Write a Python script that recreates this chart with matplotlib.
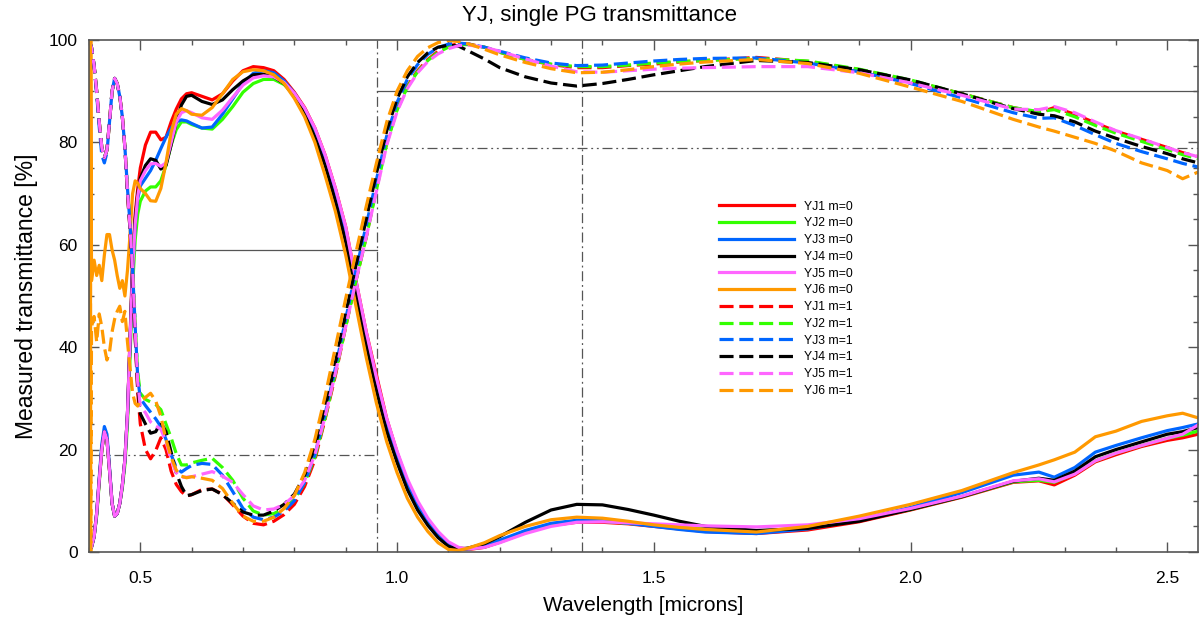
import numpy as np
import matplotlib.pyplot as plt
from matplotlib.ticker import MultipleLocator, FormatStrFormatter

plt.rcParams['font.family'] = ['Liberation Sans', 'DejaVu Sans']

# wavelength grid [microns], shared by YJ1..YJ5
wl = [0.400, 0.405, 0.410, 0.415, 0.420, 0.425, 0.430, 0.435, 0.440, 0.445,
      0.450, 0.455, 0.460, 0.465, 0.470, 0.475, 0.480, 0.485, 0.490, 0.495, 0.500,
      0.51, 0.52, 0.53, 0.54, 0.55, 0.56, 0.57, 0.58, 0.59, 0.60,
      0.62, 0.64, 0.66, 0.68, 0.70, 0.72, 0.74, 0.76, 0.78, 0.80, 0.82, 0.84,
      0.86, 0.88, 0.90, 0.92, 0.94, 0.96,
      0.98, 1.00, 1.02, 1.04, 1.06, 1.08, 1.10, 1.12,
      1.14, 1.17, 1.20,
      1.25, 1.30, 1.35, 1.40, 1.45, 1.50, 1.55, 1.60,
      1.70, 1.80, 1.90, 2.00, 2.10, 2.20,
      2.25, 2.28, 2.32, 2.36, 2.40, 2.45, 2.50, 2.53, 2.56]
# YJ6 has a noisy edge right at 0.40
wl_yj6 = [0.4005, 0.4015, 0.4025, 0.4035] + wl[1:]

# m=0 transmittance [%]
yj1_m0 = [0, 1, 3, 7.5, 14, 20, 23.5, 22, 16, 9.5, 7, 7.5, 9.5, 13, 18, 27, 42, 57, 66, 71, 75,
          79.5, 82, 82, 80.5, 81, 84, 86.5, 88.5, 89.5, 89.7,
          89, 88.3, 89.5, 92, 94, 94.8, 94.6, 94, 92.3, 89.8, 86.8, 82.8, 77.5, 71, 63.5, 53, 43, 34.5,
          26, 19.5, 13.8, 9.5, 6.2, 3.6, 1.6, 0.7,
          0.5, 0.9, 1.9,
          3.8, 5.2, 5.8, 5.8, 5.5, 5.0, 4.5, 4.0,
          3.6, 4.3, 5.9, 8.2, 10.7, 13.6,
          13.9, 13.1, 15.0, 17.6, 19.0, 20.6, 21.8, 22.3, 23.0]
yj2_m0 = [0, 1, 3, 7, 13.5, 20, 23.5, 22, 16, 9.5, 7, 7.5, 9.5, 12.5, 17, 25, 38, 52, 61, 66, 68.5,
          70.5, 71.3, 71.3, 72.5, 75.5, 79.5, 82.5, 84, 84, 83.5,
          82.8, 82.6, 84.5, 87, 89.8, 91.5, 92.3, 92.3, 91.3, 89.3, 86.3, 82.3, 77, 70.5, 63, 52.5, 42.5, 33.5,
          25.5, 19, 13.5, 9.2, 6, 3.4, 1.6, 0.8,
          0.6, 1.0, 2.2,
          4.0, 5.4, 6.0, 6.0, 5.6, 5.2, 4.8, 4.5,
          3.9, 4.6, 6.2, 8.3, 10.8, 13.7,
          14.0, 13.6, 15.3, 17.8, 19.3, 20.8, 22.2, 22.8, 23.6]
yj3_m0 = [0, 1, 3, 7.5, 14.5, 21, 24.5, 23, 16.5, 9.5, 7, 7.5, 9.5, 13, 18, 27, 41, 55, 64, 69, 71.5,
          73, 74.5, 76.5, 78.8, 81, 82.8, 84, 84.4, 84.2, 83.7,
          82.8, 83, 85.5, 88.5, 91.5, 93.5, 94, 93.6, 92, 89.6, 86.5, 82.5, 77, 70.2, 62.3, 52, 42, 33,
          25, 18.7, 13.2, 9, 5.8, 3.2, 1.5, 0.7,
          0.6, 1.1, 2.3,
          4.2, 5.6, 6.2, 6.1, 5.6, 5.0, 4.4, 3.9,
          3.6, 4.5, 6.3, 8.7, 11.6, 15.0,
          15.6, 14.6, 16.5, 19.5, 20.8, 22.3, 23.7, 24.3, 25.0]
yj4_m0 = [0, 1, 3, 7.5, 14, 20, 23.5, 22, 16, 9.5, 7, 7.5, 9.5, 13, 18, 27, 41, 56, 65, 70, 73,
          75.5, 76.8, 76.5, 74.8, 75.5, 79.5, 84, 87.3, 89, 89.2,
          88, 87.4, 88.3, 90.3, 92, 93.2, 93.3, 92.8, 91.5, 89, 85.5, 81, 75.5, 68.5, 60.5, 50.5, 40.5, 31.5,
          23.5, 17.5, 12.2, 8.2, 5.2, 2.8, 1.1, 0.5,
          0.8, 1.6, 3.0,
          5.8, 8.2, 9.3, 9.2, 8.3, 7.2, 6.0, 5.0,
          4.2, 4.6, 6.0, 8.3, 10.8, 13.8,
          14.4, 14.0, 15.8, 18.6, 20.0, 21.5, 23.0, 23.5, 24.3]
yj5_m0 = [0, 1, 3, 7.5, 14, 20, 23.5, 22, 16, 9.5, 7, 7.5, 9.5, 13, 18, 27, 41, 55, 64, 69.5, 72.5,
          74.5, 75.8, 75.9, 75.3, 76, 80, 84, 85.8, 86.2, 85.8,
          84.8, 84.5, 86.3, 88.8, 91.2, 92.6, 93, 92.8, 91.7, 89.6, 86.7, 82.8, 77.5, 71, 63.5, 53, 43, 34,
          26, 19.7, 14.3, 10, 6.6, 4, 2.0, 0.9,
          0.6, 0.9, 1.8,
          3.6, 5.0, 5.8, 5.9, 5.7, 5.5, 5.3, 5.1,
          4.9, 5.3, 6.5, 8.5, 10.9, 13.9,
          14.3, 13.7, 15.2, 17.8, 19.3, 20.8, 22.2, 23.0, 24.8]
yj6_m0 = [0, 100, 0, 100,
          53, 57, 54, 56, 53, 58, 62, 62, 59, 57, 54, 51.5, 53, 50, 55, 62, 70, 72.5, 72, 71,
          70, 68.6, 68.5, 71, 76, 82, 85.5, 86.6, 86.2, 85.5,
          85.3, 86.8, 89.5, 92.3, 93.8, 94.2, 94, 93.2, 91.5, 88.6, 85, 80, 73.5, 66.5, 58, 48, 38, 29,
          21.5, 15.5, 10.5, 6.8, 4, 1.8, 0.5, 0.3,
          0.8, 1.8, 3.2,
          5.0, 6.3, 6.8, 6.6, 6.0, 5.3, 4.8, 4.4,
          3.9, 5.0, 7.0, 9.3, 12.0, 15.5,
          17.0, 18.0, 19.5, 22.5, 23.6, 25.5, 26.6, 27.1, 26.2]

# m=1 transmittance [%]
yj1_m1 = [100, 98.5, 95, 90, 84, 79, 77, 78.5, 84, 90, 92.5, 91.5, 89, 85, 79, 70, 63, 54, 42, 31, 25,
          20, 18.2, 19.8, 22.3, 20, 15.8, 13.2, 11.8, 10.9, 11.2,
          12.2, 12.3, 11.3, 9.2, 7, 5.6, 5.3, 6, 7.3, 9.3, 12.8, 18, 26, 34.5, 44, 53, 61.5, 71.3,
          80, 86.5, 91, 94, 96.2, 97.8, 98.8, 99.3,
          99.2, 98.6, 97.6,
          96.2, 95.2, 94.6, 94.6, 95.0, 95.3, 95.7, 96.0,
          96.6, 95.8, 94.2, 92.0, 89.5, 86.8,
          85.8, 86.8, 85.5, 83.8, 82.2, 80.6, 79.0, 78.0, 77.2]
yj2_m1 = [100, 98.5, 95, 90, 84, 79, 77, 78.5, 84, 90, 92.5, 91.5, 89, 85, 79, 71, 64, 56, 45, 35, 31,
          29.8, 29.3, 28.8, 27.8, 25, 22.3, 19.2, 17, 17, 17.4,
          17.9, 18.3, 16.5, 14, 10.5, 8, 7.2, 7.5, 8.5, 10.3, 13.5, 18.5, 26.2, 35, 44, 53, 61.5, 70.8,
          79.8, 86.3, 90.8, 93.8, 96, 97.6, 98.6, 99.1,
          99.1, 98.6, 97.6,
          96.2, 95.3, 94.8, 94.8, 95.1, 95.5, 95.8, 96.0,
          96.4, 95.9, 94.3, 92.2, 89.5, 86.8,
          86.0, 86.4, 85.0, 83.3, 81.8, 80.2, 78.6, 77.6, 76.8]
yj3_m1 = [100, 98.5, 95, 89.5, 83, 77.5, 76, 78, 84, 90, 92.5, 91.5, 89, 85, 79, 71, 64, 55, 44, 34, 30,
          28.6, 27.3, 26, 24.5, 22, 19, 16.5, 15.6, 16.3, 16.9,
          17.3, 17.1, 15, 11.8, 8.5, 6.8, 6.3, 6.8, 8, 10, 13.6, 19, 27, 36, 45.5, 55, 63.8, 72.8,
          81.3, 87.8, 92.3, 95.2, 97.2, 98.5, 99.2, 99.4,
          99.2, 98.6, 97.8,
          96.5, 95.5, 95.0, 95.1, 95.5, 95.9, 96.2, 96.4,
          96.5, 95.5, 93.8, 91.5, 88.7, 85.8,
          84.7, 84.8, 83.3, 81.5, 79.8, 78.2, 76.8, 75.9, 75.2]
yj4_m1 = [100, 98.5, 95, 90, 84, 79, 77, 78.5, 84, 90, 92.5, 91.5, 89, 85, 79, 70, 63, 54, 42, 32, 27,
          25, 23.2, 23.5, 25.3, 23.5, 19.5, 15.5, 12.8, 11.0, 11.2,
          12, 12.3, 11.2, 9.5, 7.8, 7.2, 7.2, 8, 9.3, 11.3, 15, 20.5, 28.2, 37, 46.5, 56, 65, 74,
          82.3, 88.5, 92.8, 95.6, 97.5, 98.6, 99, 98.8,
          97.8, 96.3, 94.6,
          92.8, 91.6, 91.0, 91.5, 92.3, 93.2, 94.0, 94.8,
          96.0, 95.6, 94.2, 92.2, 89.5, 86.6,
          85.5, 85.2, 84.0, 82.2, 80.8, 79.2, 77.8, 76.8, 76.0]
yj5_m1 = [100, 98.5, 95, 90, 84, 79, 77, 78.5, 84, 90, 92.5, 91.5, 89, 85, 79, 70.5, 63.5, 55, 43.5, 33, 28.5,
          27.2, 25.4, 24.6, 24, 21.5, 18, 15.5, 14.6, 14.6, 14.7,
          15.2, 15.7, 14.8, 13.6, 11.2, 9, 8.2, 8.4, 9.3, 11.0, 14, 19, 26.5, 35, 44, 53, 61.5, 70.5,
          79.5, 86, 90.5, 93.6, 95.8, 97.3, 98.3, 98.9,
          99.0, 98.6, 97.8,
          96.3, 94.9, 93.8, 93.7, 94.0, 94.3, 94.5, 94.6,
          94.8, 94.8, 93.6, 91.6, 89.2, 86.5,
          86.4, 87.0, 85.8, 84.0, 82.3, 80.7, 79.0, 78.0, 77.2]
yj6_m1 = [100, 0, 100, 0,
          44, 46, 41, 46.5, 44, 40, 37.5, 39, 43, 45.5, 47, 48, 45, 47, 41, 36, 31, 29, 28.5, 29.5,
          30.2, 31, 29.5, 26.5, 22, 18.5, 16, 14.8, 14.5, 14.7,
          14.4, 14.0, 12.4, 9.5, 7, 6, 6, 6.8, 8.5, 11, 15.5, 22, 30.5, 40, 49.5, 58.5, 67.5, 76,
          84, 90, 94, 96.8, 98.5, 99.5, 99.9, 99.7,
          99.2, 98.2, 97.1,
          95.6, 94.4, 93.6, 93.7, 94.2, 94.8, 95.3, 95.7,
          96.2, 95.4, 93.5, 90.8, 88.0, 84.5,
          83.0, 82.2, 81.0, 79.8, 78.3, 76.0, 74.5, 72.9, 74.2]

names = ['YJ1', 'YJ2', 'YJ3', 'YJ4', 'YJ5', 'YJ6']
colors = ['#ff0000', '#33ff00', '#0066ff', '#000000', '#ff66ff', '#ff9900']
m0_data = [yj1_m0, yj2_m0, yj3_m0, yj4_m0, yj5_m0, yj6_m0]
m1_data = [yj1_m1, yj2_m1, yj3_m1, yj4_m1, yj5_m1, yj6_m1]
x_data = [wl, wl, wl, wl, wl, wl_yj6]

# band edges and requirement levels
band_edges = [0.96, 1.36]
req_blue = [59, 19]    # m=0, m=1 below the band
req_band = [90, 79]    # m=1 mean / min inside the band

fig = plt.figure(figsize=(11.99, 6.23), dpi=100)
ax = fig.add_axes([0.0742, 0.114, 0.925, 0.8218])

gray = '#555555'
for v in band_edges:
    ax.axvline(v, color=gray, lw=0.9, dashes=(8, 3, 1.5, 3), zorder=1)
ax.plot([0.40, 0.96], [req_blue[0]] * 2, color=gray, lw=0.9, zorder=1)
ax.plot([0.40, 0.96], [req_blue[1]] * 2, color=gray, lw=0.9,
        dashes=(8, 3, 1.5, 3, 1.5, 3), zorder=1)
ax.plot([0.96, 2.56], [req_band[0]] * 2, color=gray, lw=0.9, zorder=1)
ax.plot([0.96, 2.56], [req_band[1]] * 2, color=gray, lw=0.9,
        dashes=(8, 3, 1.5, 3, 1.5, 3), zorder=1)

for x, y, c, n in zip(x_data, m0_data, colors, names):
    ax.plot(x, y, color=c, lw=2.3, label=n + ' m=0')
for x, y, c, n in zip(x_data, m1_data, colors, names):
    ax.plot(x, y, color=c, lw=2.3, dashes=(4.4, 1.8), label=n + ' m=1')

ax.set_xlim(0.40, 2.56)
ax.set_ylim(0, 100)
ax.xaxis.set_major_locator(MultipleLocator(0.5))
ax.xaxis.set_minor_locator(MultipleLocator(0.1))
ax.xaxis.set_major_formatter(FormatStrFormatter('%.1f'))
ax.yaxis.set_major_locator(MultipleLocator(20))
ax.yaxis.set_minor_locator(MultipleLocator(5))
ax.tick_params(which='both', direction='in', top=True, right=True,
               color=gray, width=1, labelsize=12.5)
ax.tick_params(which='major', length=7.2)
ax.tick_params(which='minor', length=3.6)
ax.tick_params(axis='x', pad=14)
ax.tick_params(axis='y', pad=8)
for s in ax.spines.values():
    s.set_color(gray)
    s.set_linewidth(1.2)

fig.text(0.5, 1 - 15 / 623, 'YJ, single PG transmittance', fontsize=16,
         ha='center', va='center')
ax.set_xlabel('Wavelength [microns]', fontsize=15, labelpad=7)
ax.set_ylabel('Measured transmittance [%]', fontsize=16.5, labelpad=8)

ax.legend(loc='upper left', bbox_to_anchor=(719 / 1199, 1 - 200.5 / 623),
          bbox_transform=fig.transFigure, frameon=False, fontsize=8.8,
          handlelength=6.1, handletextpad=0.82, labelspacing=0.39,
          borderpad=0, borderaxespad=0)

fig.savefig('out.png', dpi=100)
